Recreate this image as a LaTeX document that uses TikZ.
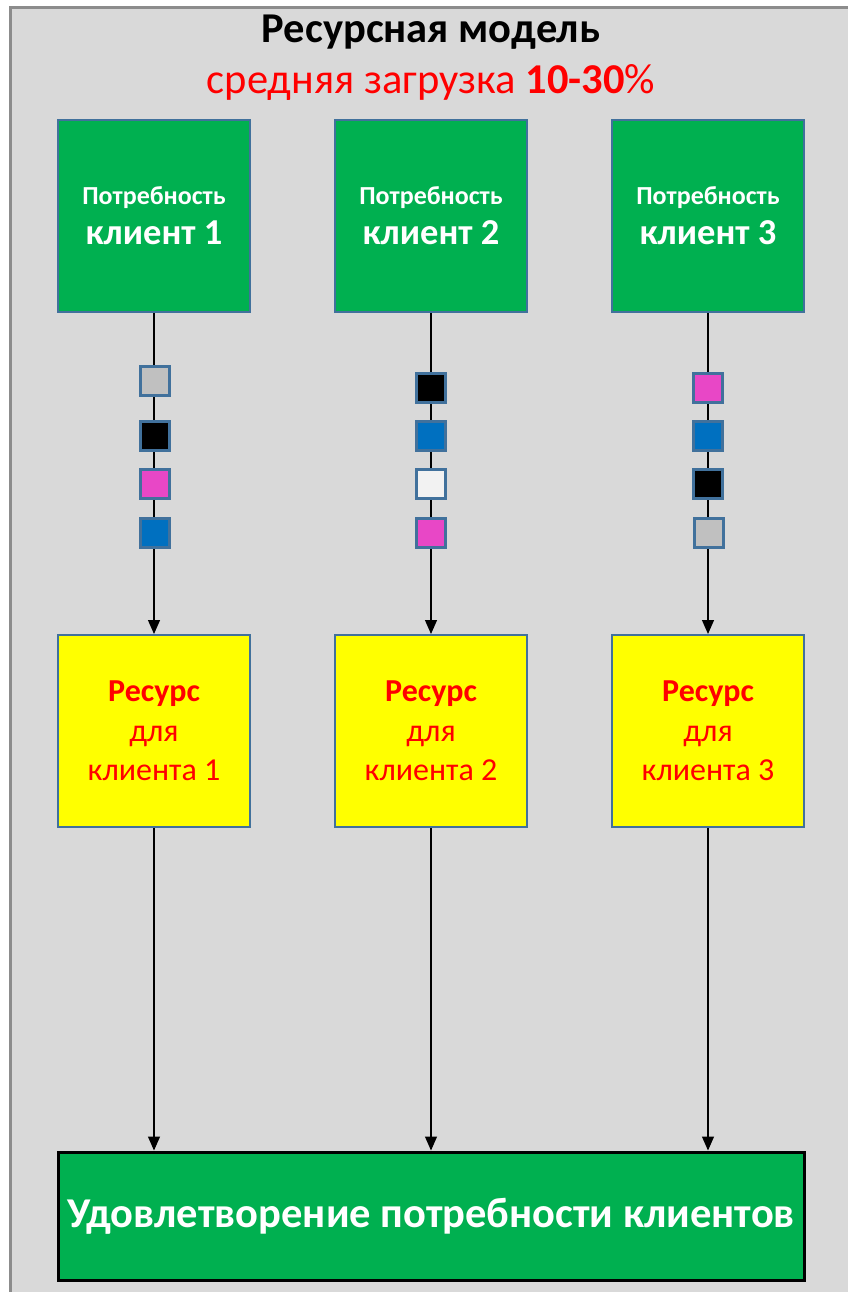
\documentclass[tikz,border=0pt]{standalone}
\usepackage{fontspec}
\setmainfont{Carlito}
\usetikzlibrary{arrows.meta}
\definecolor{bgc}{HTML}{D9D9D9}
\definecolor{frm}{HTML}{8C8C8C}
\definecolor{gr}{HTML}{00B050}
\definecolor{yl}{HTML}{FFFF00}
\definecolor{rd}{HTML}{FF0000}
\definecolor{sb}{HTML}{41719C}
\definecolor{pk}{HTML}{E847C6}
\definecolor{bl}{HTML}{0070C0}
\definecolor{lg}{HTML}{C0C0C0}
\definecolor{wh}{HTML}{F2F2F2}
\tikzset{
  needbox/.style={draw=sb, line width=2pt, fill=gr, minimum width=192pt, minimum height=192pt, inner sep=0pt, text=white, align=center, font=\bfseries\fontsize{26}{40}\selectfont},
  resbox/.style={draw=sb, line width=2pt, fill=yl, minimum width=192pt, minimum height=192pt, inner sep=0pt, text=rd, align=center, font=\fontsize{32}{39.5}\selectfont},
  sq/.style={draw=sb, line width=2.5pt, minimum size=29pt, inner sep=0pt},
  conn/.style={line width=1.2pt, -{Triangle[width=12pt,length=14pt]}}
}
\begin{document}
\begin{tikzpicture}[x=1pt,y=-1pt]
\useasboundingbox (0,0) rectangle (848,1292);
\fill[white] (0,0) rectangle (848,1292);
\fill[bgc] (10,8) rectangle (848,1292);
\draw[frm, line width=3pt] (10,1292) -- (10,8) -- (848,8);
\node[font=\fontsize{42.5}{48}\selectfont\bfseries] (title) at (431,32) {Ресурсная модель};
\node[text=rd, font=\fontsize{42.5}{48}\selectfont] (sub) at (431,82) {средняя загрузка \textbf{10-30}\%};
\foreach \i/\x in {1/154,2/431,3/708}{
  \node[needbox] (n\i) at (\x,216) {Потребность\\{\fontsize{36.5}{40}\selectfont клиент \i}};
  \node[resbox] (r\i) at (\x,731) {\textbf{Ресурс}\\для\\клиента \i};
  \draw[conn] (n\i.south) -- (r\i.north);
}
\node[draw=black, line width=3pt, fill=gr, minimum width=746pt, minimum height=128pt, inner sep=0pt, text=white, font=\fontsize{42.5}{48}\selectfont\bfseries] (out) at (431,1216) {Удовлетворение потребности клиентов};
\foreach \i in {1,2,3}{
  \draw[conn] (r\i.south) -- (r\i.south |- out.north);
}
% squares column 1
\node[sq, fill=lg] (s11) at (155,381) {};
\node[sq, fill=black] (s12) at (155,436) {};
\node[sq, fill=pk] (s13) at (155,484) {};
\node[sq, fill=bl] (s14) at (155,533) {};
% column 2
\node[sq, fill=black] (s21) at (431,388) {};
\node[sq, fill=bl] (s22) at (431,436) {};
\node[sq, fill=wh] (s23) at (431,484) {};
\node[sq, fill=pk] (s24) at (431,533) {};
% column 3
\node[sq, fill=pk] (s31) at (708,388) {};
\node[sq, fill=bl] (s32) at (708,436) {};
\node[sq, fill=black] (s33) at (708,484) {};
\node[sq, fill=lg] (s34) at (709,533) {};
\end{tikzpicture}
\end{document}
